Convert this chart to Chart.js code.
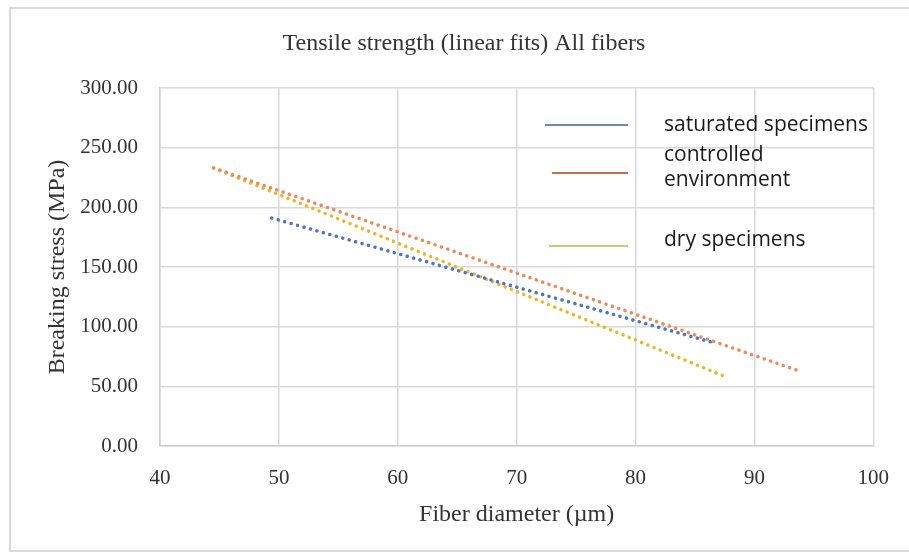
<!DOCTYPE html>
<html>
<head>
<meta charset="utf-8">
<script src="https://cdn.jsdelivr.net/npm/chart.js@4/dist/chart.umd.min.js"></script>
<style>
  html,body{margin:0;padding:0;background:#fff;}
  #wrap{width:909px;height:553px;position:relative;}
</style>
</head>
<body>
<div id="wrap"><canvas id="chart"></canvas></div>
<script>
// Daten (lineare Fits, Endpunkte)
const chartTitle = 'Tensile strength (linear fits) All fibers';
const seriesNames = ['saturated specimens', ['controlled', 'environment'], 'dry specimens'];
const satX = [49.4, 86.4];
const satY = [191, 87];
const ctrlX = [44.5, 94.0];
const ctrlY = [233, 62];
const dryX = [44.5, 87.6];
const dryY = [233, 58];
const xTicks = [40, 50, 60, 70, 80, 90, 100];
const yTicks = [0, 50, 100, 150, 200, 250, 300];

const colors = ['#4f74c0', '#ec8a5a', '#e7b928'];
const legendColors = ['#6f86c0', '#c0704f', '#d9c27a'];

function pts(xs, ys){ return xs.map((x,i)=>({x, y: ys[i]})); }

const serif = "'Liberation Serif', 'DejaVu Serif', serif";

// Titel + Legende innerhalb des Plotbereichs
const insideLegend = {
  id: 'insideLegend',
  afterDraw(chart){
    const {ctx, chartArea: a} = chart;
    ctx.save();
    ctx.font = "24px " + serif;
    ctx.fillStyle = '#333';
    ctx.textAlign = 'center'; ctx.textBaseline = 'middle';
    ctx.fillText(chartTitle, 464, 44);

    const rows = [
      {ly: 37, lx0: 385, tys: [37]},
      {ly: 85, lx0: 392, tys: [67, 92]},
      {ly: 158, lx0: 389, tys: [152]}
    ];
    ctx.font = "21px 'Open Sans'";
    ctx.fillStyle = '#1a1a1a';
    ctx.textAlign = 'left';
    rows.forEach((r,i)=>{
      ctx.strokeStyle = legendColors[i]; ctx.lineWidth = 2;
      ctx.beginPath(); ctx.moveTo(a.left + r.lx0, a.top + r.ly); ctx.lineTo(a.left + 468, a.top + r.ly); ctx.stroke();
      const lbl = Array.isArray(seriesNames[i]) ? seriesNames[i] : [seriesNames[i]];
      lbl.forEach((t,j)=> ctx.fillText(t, a.left + 504, a.top + r.tys[j]));
    });
    ctx.restore();
  }
};

// Rahmen um das ganze Bild
const frame = {
  id: 'frame',
  afterDraw(chart){
    const ctx = chart.ctx;
    ctx.save(); ctx.strokeStyle = '#d9d9d9'; ctx.lineWidth = 2;
    ctx.strokeRect(10, 8, 920, 543);
    ctx.restore();
  }
};

const ds = (label, data, color)=>({
  label, data, showLine: true, fill: false,
  borderColor: color, backgroundColor: color,
  borderWidth: 3.5, borderDash: [0.1, 6.6], borderCapStyle: 'round',
  pointRadius: 0, tension: 0
});

new Chart(document.getElementById('chart'), {
  type: 'scatter',
  data: {
    datasets: [
      ds('saturated specimens', pts(satX, satY), colors[0]),
      ds('controlled environment', pts(ctrlX, ctrlY), colors[1]),
      ds('dry specimens', pts(dryX, dryY), colors[2])
    ]
  },
  options: {
    responsive: true, maintainAspectRatio: false, animation: false,
    layout: {padding: {left: 0, right: 34, top: 88, bottom: 0}},
    plugins: {
      legend: {display: false},
      tooltip: {enabled: false},
      title: {display: false}
    },
    scales: {
      x: {
        type: 'linear', min: xTicks[0], max: xTicks[xTicks.length-1],
        afterBuildTicks: s => { s.ticks = xTicks.map(v=>({value: v})); },
        afterFit: s => { s.height = 107; },
        grid: {color: '#d9d9d9', lineWidth: 1.5, drawTicks: false},
        border: {color: '#d0d0d0', width: 1.5},
        ticks: {color: '#333', padding: 20, font: {family: serif, size: 21}},
        title: {display: true, text: 'Fiber diameter (\u00b5m)', color: '#333',
          font: {family: serif, size: 24}, padding: {top: 0, bottom: 24}}
      },
      y: {
        type: 'linear', min: yTicks[0], max: yTicks[yTicks.length-1],
        afterBuildTicks: s => { s.ticks = yTicks.map(v=>({value: v})); },
        afterFit: s => { s.width = 160; },
        grid: {color: '#d9d9d9', lineWidth: 1.5, drawTicks: false},
        border: {color: '#d0d0d0', width: 1.5},
        ticks: {color: '#333', padding: 22, font: {family: serif, size: 21},
          callback: v => Number(v).toFixed(2)},
        title: {display: true, text: 'Breaking stress (MPa)', color: '#333',
          font: {family: serif, size: 24}, padding: {top: 43, bottom: 0}}
      }
    }
  },
  plugins: [insideLegend, frame]
});
</script>
</body>
</html>
